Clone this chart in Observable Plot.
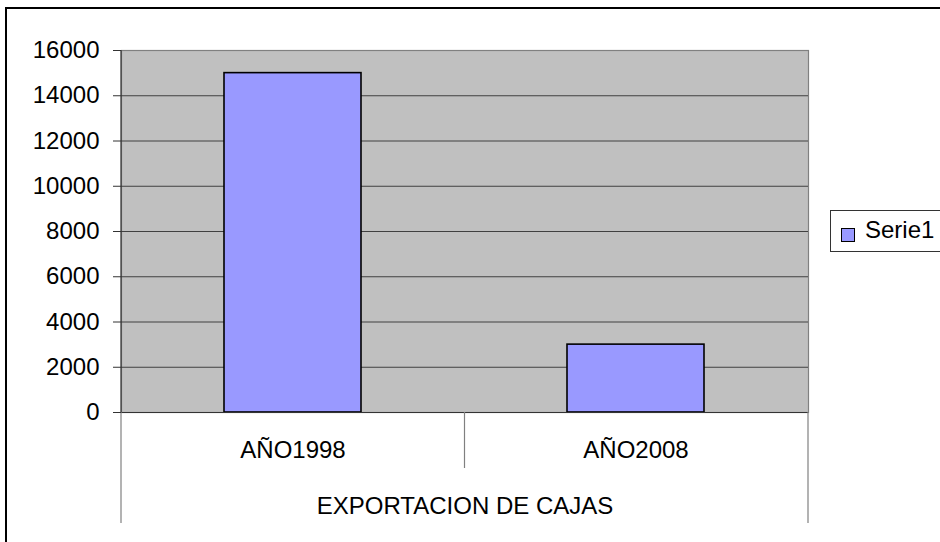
<!DOCTYPE html>
<html>
<head>
<meta charset="utf-8">
<script src="https://cdn.jsdelivr.net/npm/d3@7"></script>
<script src="https://cdn.jsdelivr.net/npm/@observablehq/plot@0.6"></script>
<style>
  html, body { margin: 0; padding: 0; background: #fff; overflow: hidden; }
  #wrap { position: relative; width: 940px; height: 542px; overflow: hidden; font-family: "Liberation Sans", Arial, sans-serif; }
  #border { position: absolute; left: 5px; top: 7px; width: 1200px; height: 1200px; border: 2px solid #000; box-sizing: border-box; pointer-events: none; }
  #legend { position: absolute; left: 830px; top: 210px; width: 200px; height: 42px; border: 1px solid #333; box-sizing: border-box; background: #fff; }
  #legend .sw { position: absolute; left: 10px; top: 17px; width: 14px; height: 14px; border: 1px solid #000; box-sizing: border-box; }
  #legend .lb { position: absolute; left: 34px; top: 5px; font-size: 24px; line-height: 28px; color: #000; }
</style>
</head>
<body>
<div id="wrap"></div>
<script>
const categories = ["AÑO1998", "AÑO2008"];
const values = [15000, 3000];
const seriesName = "Serie1";
const groupLabel = "EXPORTACION DE CAJAS";
const yTicks = [0, 2000, 4000, 6000, 8000, 10000, 12000, 14000, 16000];
const barColor = "#9999FF";

const data = categories.map((c, i) => ({ cat: c, value: values[i] }));

const separators = (index, scales, values, dim) => {
  const g = d3.create("svg:g").attr("stroke", "#808080").attr("stroke-width", 1.2);
  const left = dim.marginLeft, right = dim.width - dim.marginRight;
  const bottom = dim.height - dim.marginBottom;
  const mid = (left + right) / 2;
  g.append("line").attr("x1", left).attr("x2", left).attr("y1", bottom).attr("y2", bottom + 111);
  g.append("line").attr("x1", right).attr("x2", right).attr("y1", bottom).attr("y2", bottom + 111);
  g.append("line").attr("x1", mid).attr("x2", mid).attr("y1", bottom).attr("y2", bottom + 56);
  g.append("line").attr("x1", left).attr("x2", left).attr("y1", dim.marginTop).attr("y2", bottom).attr("stroke", "#333");
  return g.node();
};

const chart = Plot.plot({
  width: 940,
  height: 542,
  marginLeft: 121,
  marginRight: 132,
  marginTop: 50,
  marginBottom: 130,
  style: { fontFamily: "'Liberation Sans', Arial, sans-serif", fontSize: "24px", background: "transparent", color: "#000", overflow: "visible" },
  x: { domain: categories, paddingInner: 0.6, paddingOuter: 0.3, axis: null, label: null },
  y: { domain: [0, 16000], axis: null, label: null },
  marks: [
    Plot.frame({ fill: "#C0C0C0", stroke: "#808080", strokeWidth: 1.2 }),
    Plot.gridY(yTicks.filter(t => t > 0 && t < 16000), { stroke: "#404040", strokeOpacity: 1, strokeWidth: 1 }),
    Plot.barY(data, { x: "cat", y: "value", fill: barColor, stroke: "#000", strokeWidth: 1.6 }),
    Plot.ruleY([0], { stroke: "#333", strokeWidth: 1.2 }),
    separators,
    Plot.axisY(yTicks, { tickSize: 8, tickPadding: 14, fontSize: 24, stroke: "#333", label: null, tickFormat: d => String(d) }),
    Plot.axisX(categories, { tickSize: 0, tickPadding: 28, fontSize: 24, label: null }),
    Plot.text([groupLabel], { text: d => d, frameAnchor: "bottom", dy: 101, lineAnchor: "bottom", fontSize: 24, fill: "#000" })
  ]
});

const wrap = document.getElementById("wrap");
wrap.appendChild(chart);

const border = document.createElement("div");
border.id = "border";
wrap.appendChild(border);

const legend = document.createElement("div");
legend.id = "legend";
const sw = document.createElement("div");
sw.className = "sw";
sw.style.background = barColor;
const lb = document.createElement("div");
lb.className = "lb";
lb.textContent = seriesName;
legend.appendChild(sw);
legend.appendChild(lb);
wrap.appendChild(legend);
</script>
</body>
</html>
